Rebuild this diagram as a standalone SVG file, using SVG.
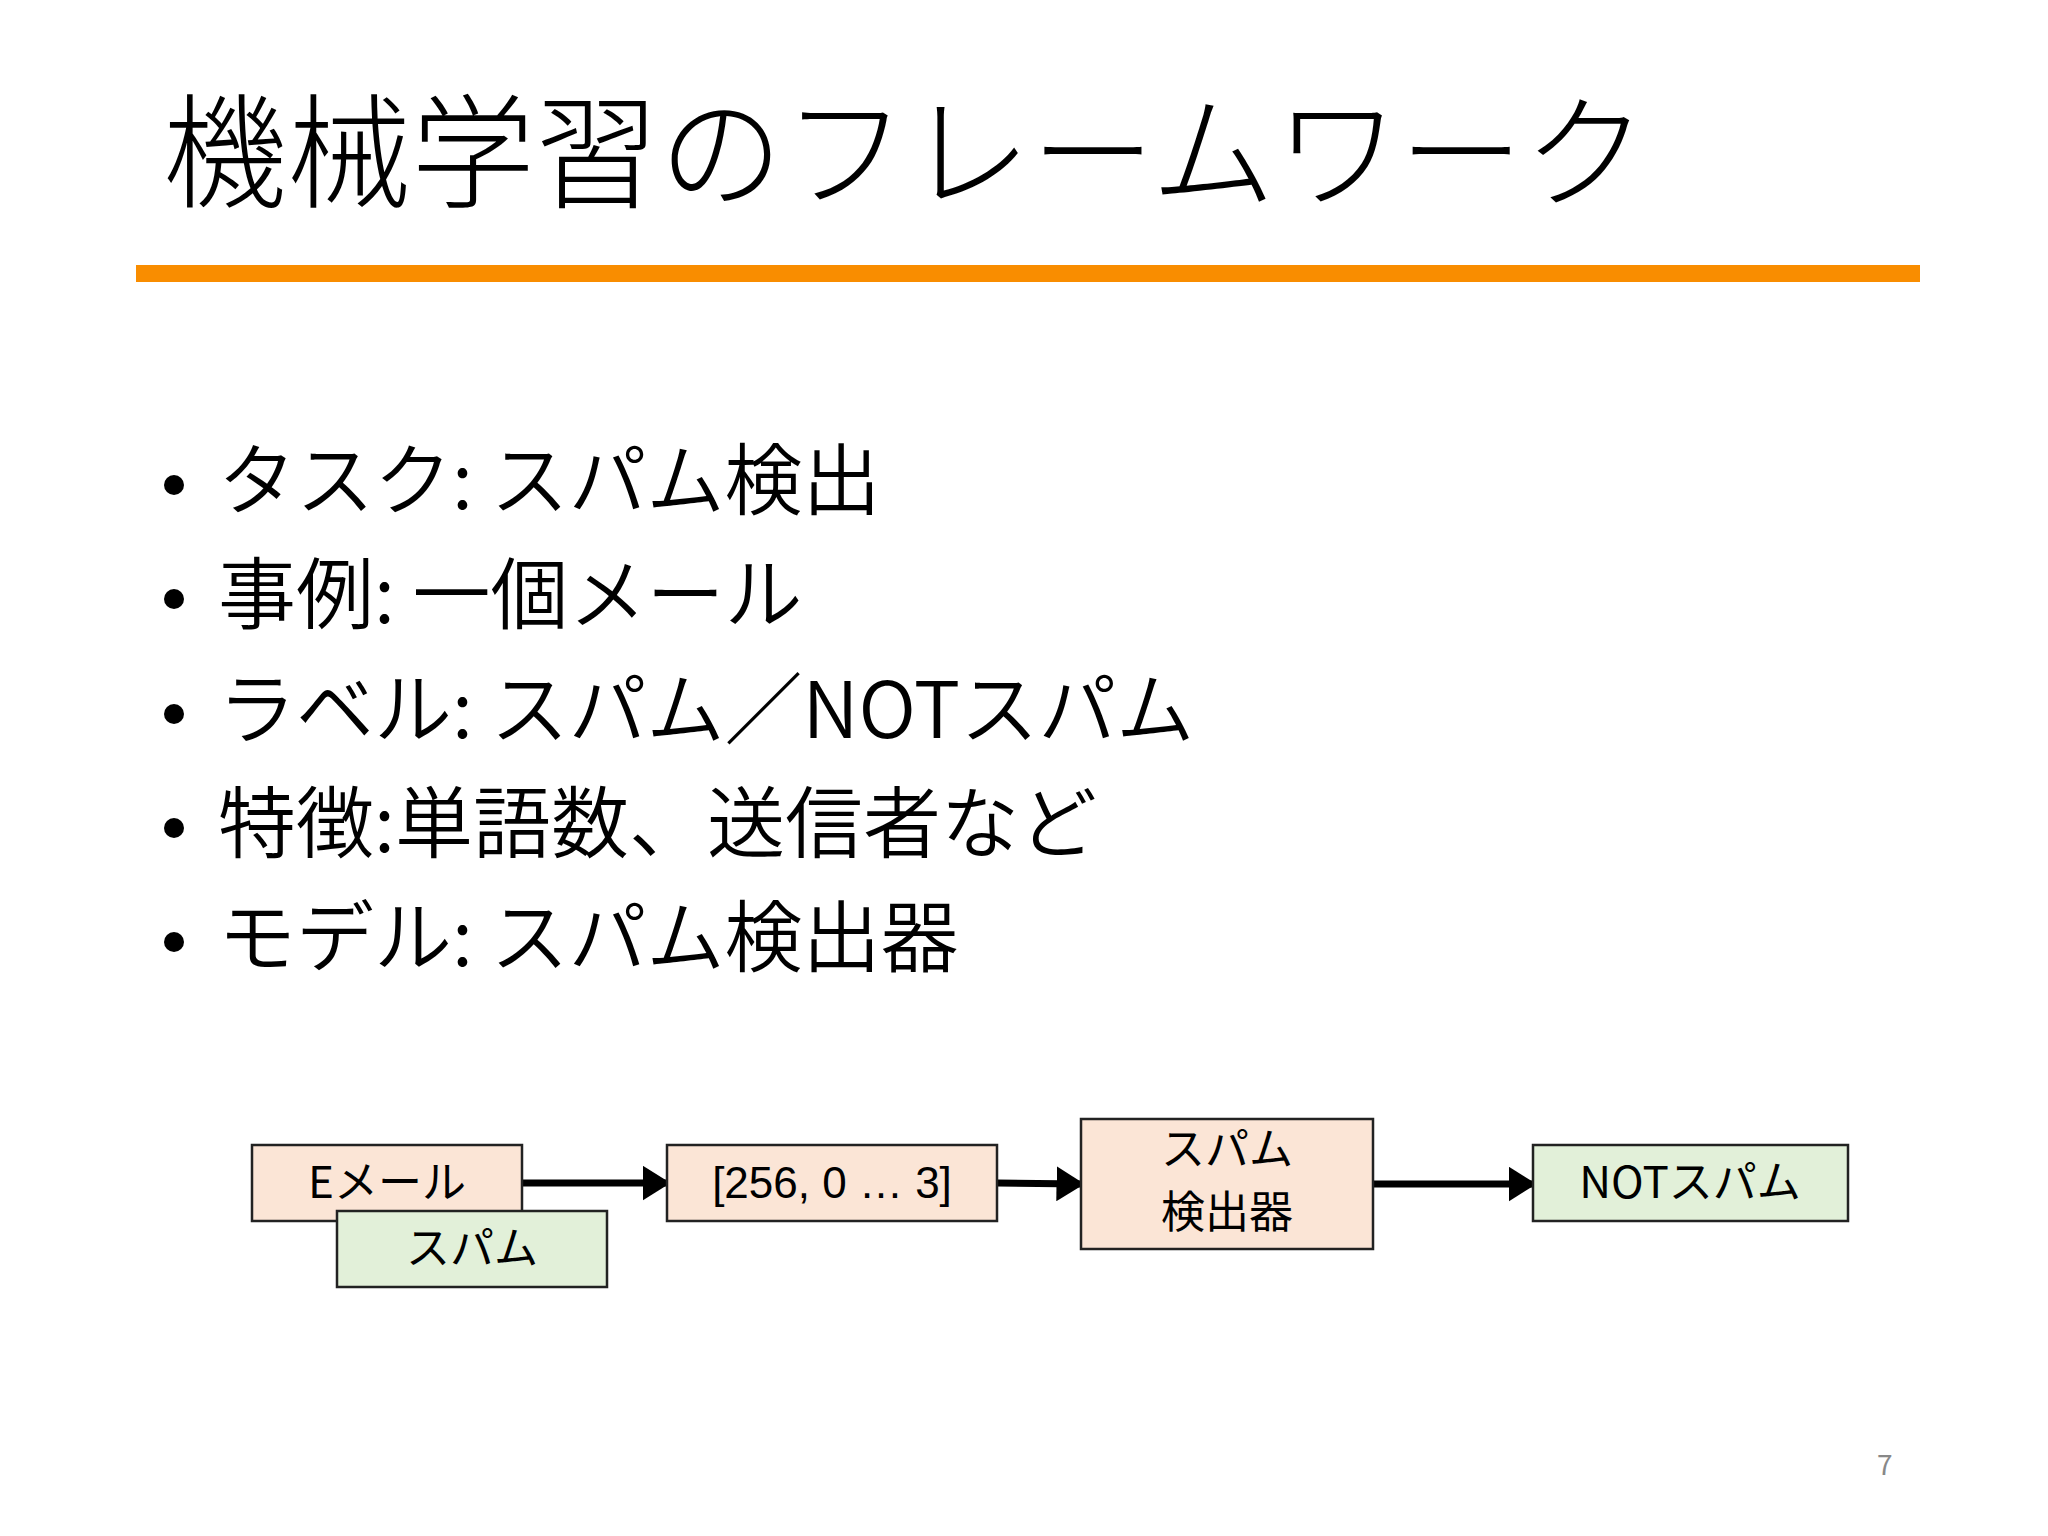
<svg xmlns="http://www.w3.org/2000/svg" width="2048" height="1536" viewBox="0 0 2048 1536">
<style>
.t{font-family:"Noto Sans CJK JP","Noto Sans",sans-serif;fill:#000}
.b{font-size:78px}
.n{font-size:44px;text-anchor:middle}
.pk{fill:#fbe5d6;stroke:#222;stroke-width:2.5}
.gr{fill:#e2f0d9;stroke:#222;stroke-width:2.5}
.c{stroke:#000;stroke-width:7;fill:none;marker-end:url(#ah)}
</style>
<defs><marker id="ah" markerWidth="4" markerHeight="5" refX="3.5" refY="2.5" orient="auto"><path d="M0,0L4,2.5L0,5z" fill="#000"/></marker></defs>
<rect width="2048" height="1536" fill="#fff"/>
<text class="t" x="163" y="198" font-size="124" font-weight="300">機械学習のフレームワーク</text>
<rect x="136" y="265" width="1784" height="17" fill="#f98d00"/>
<g id="bullets" class="t b" font-weight="350">
<circle cx="174" cy="485" r="10"/><text x="218" y="509">タスク: スパム検出</text>
<circle cx="174" cy="599" r="10"/><text x="218" y="623">事例: 一個メール</text>
<circle cx="174" cy="714" r="10"/><text x="218" y="738">ラベル: スパム／NOTスパム</text>
<circle cx="174" cy="828" r="10"/><text x="218" y="852">特徴:単語数、送信者など</text>
<circle cx="174" cy="942" r="10"/><text x="218" y="966">モデル: スパム検出器</text>
</g>
<g id="connectors">
<line class="c" x1="522" y1="1183" x2="667" y2="1183"/>
<line class="c" x1="997" y1="1183" x2="1081" y2="1184"/>
<line class="c" x1="1373" y1="1184" x2="1533" y2="1184"/>
</g>
<g id="email"><rect class="pk" x="252" y="1145" width="270" height="76"/><text class="t n" x="387" y="1198">Eメール</text></g>
<g id="spam"><rect class="gr" x="337" y="1211" width="270" height="76"/><text class="t n" x="472" y="1264">スパム</text></g>
<g id="vec"><rect class="pk" x="667" y="1145" width="330" height="76"/><text class="t n" x="832" y="1198" style="font-family:'Liberation Sans',sans-serif">[256, 0 … 3]</text></g>
<g id="det"><rect class="pk" x="1081" y="1119" width="292" height="130"/><text class="t n" x="1227" y="1165">スパム</text><text class="t n" x="1227" y="1228">検出器</text></g>
<g id="notspam"><rect class="gr" x="1533" y="1145" width="315" height="76"/><text class="t n" x="1690" y="1198">NOTスパム</text></g>
<text class="t" x="1877" y="1475" font-size="28" style="fill:#888">7</text>
</svg>
